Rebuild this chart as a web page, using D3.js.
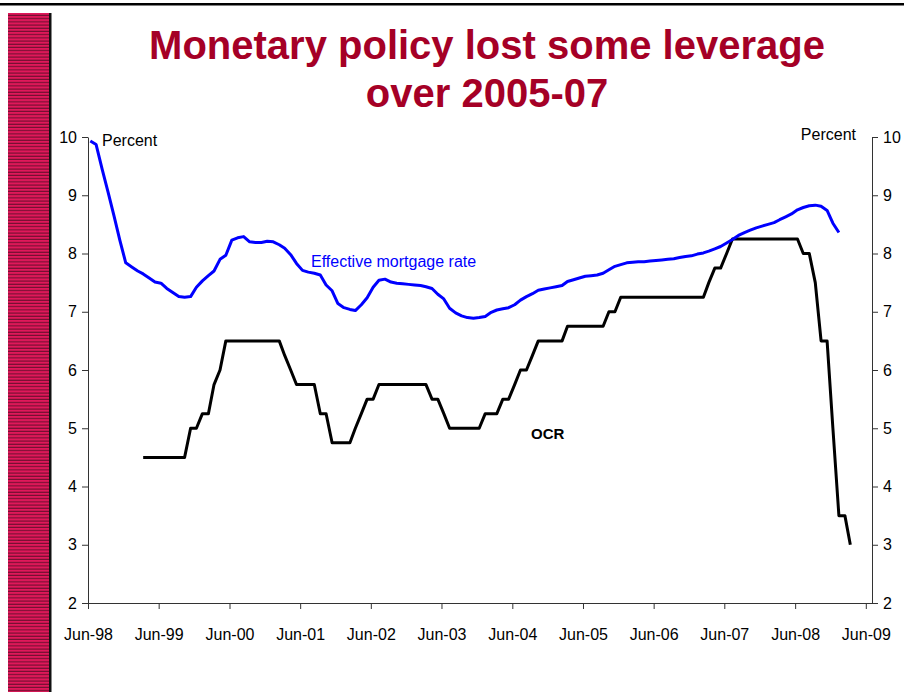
<!DOCTYPE html>
<html>
<head>
<meta charset="utf-8">
<script src="https://cdn.jsdelivr.net/npm/d3@7"></script>
<style>
  html, body { margin: 0; padding: 0; background: #fff; }
  svg { display: block; }
  text { font-family: "Liberation Sans", Arial, sans-serif; }
</style>
</head>
<body>
<svg id="chart" width="904" height="692"></svg>
<script>
// ---------------- DATA ----------------
const titleLines = ["Monetary policy lost some leverage", "over 2005-07"];
const mortgageStart = [1998, 6];   // Jun-98, monthly
const mortgageRate = [
  9.93, 9.87, 9.45, 9.05, 8.65, 8.22, 7.84, 7.77, 7.70, 7.65, 7.58, 7.51,
  7.49, 7.40, 7.33, 7.26, 7.25, 7.26, 7.42, 7.53, 7.62, 7.70, 7.90, 7.97,
  8.23, 8.27, 8.29, 8.20, 8.19, 8.19, 8.21, 8.20, 8.15, 8.09, 7.98, 7.83,
  7.71, 7.68, 7.66, 7.63, 7.46, 7.36, 7.14, 7.07, 7.04, 7.02, 7.12, 7.24,
  7.42, 7.54, 7.56, 7.51, 7.49, 7.48, 7.47, 7.46, 7.45, 7.43, 7.40, 7.30,
  7.22, 7.06, 6.98, 6.93, 6.90, 6.89, 6.90, 6.92, 6.99, 7.03, 7.05, 7.07,
  7.12, 7.20, 7.26, 7.31, 7.37, 7.39, 7.41, 7.43, 7.45, 7.52, 7.55, 7.58,
  7.61, 7.62, 7.63, 7.66, 7.72, 7.78, 7.81, 7.84, 7.85, 7.86, 7.86, 7.87,
  7.88, 7.89, 7.90, 7.91, 7.93, 7.95, 7.96, 7.99, 8.01, 8.04, 8.08, 8.12,
  8.18, 8.24, 8.31, 8.36, 8.40, 8.44, 8.47, 8.50, 8.53, 8.58, 8.63, 8.68,
  8.75, 8.79, 8.82, 8.83, 8.81, 8.74, 8.52, 8.36
];
const ocrStart = [1999, 3];        // Mar-99, monthly
const ocr = [
  4.5, 4.5, 4.5, 4.5, 4.5, 4.5, 4.5, 4.5, 5.0, 5.0, 5.25, 5.25,
  5.75, 6.0, 6.5, 6.5, 6.5, 6.5, 6.5, 6.5, 6.5, 6.5, 6.5, 6.5,
  6.25, 6.0, 5.75, 5.75, 5.75, 5.75, 5.25, 5.25, 4.75, 4.75, 4.75, 4.75,
  5.0, 5.25, 5.5, 5.5, 5.75, 5.75, 5.75, 5.75, 5.75, 5.75, 5.75, 5.75,
  5.75, 5.5, 5.5, 5.25, 5.0, 5.0, 5.0, 5.0, 5.0, 5.0, 5.25, 5.25,
  5.25, 5.5, 5.5, 5.75, 6.0, 6.0, 6.25, 6.5, 6.5, 6.5, 6.5, 6.5,
  6.75, 6.75, 6.75, 6.75, 6.75, 6.75, 6.75, 7.0, 7.0, 7.25, 7.25, 7.25,
  7.25, 7.25, 7.25, 7.25, 7.25, 7.25, 7.25, 7.25, 7.25, 7.25, 7.25, 7.25,
  7.5, 7.75, 7.75, 8.0, 8.25, 8.25, 8.25, 8.25, 8.25, 8.25, 8.25, 8.25,
  8.25, 8.25, 8.25, 8.25, 8.0, 8.0, 7.5, 6.5, 6.5, 5.0, 3.5, 3.5,
  3.0
];
const yTicks = [2, 3, 4, 5, 6, 7, 8, 9, 10];
const xTickYears = [1998, 1999, 2000, 2001, 2002, 2003, 2004, 2005, 2006, 2007, 2008, 2009];
const xTickLabels = ["Jun-98", "Jun-99", "Jun-00", "Jun-01", "Jun-02", "Jun-03",
                     "Jun-04", "Jun-05", "Jun-06", "Jun-07", "Jun-08", "Jun-09"];
const seriesLabels = { mortgage: "Effective mortgage rate", ocr: "OCR", unit: "Percent" };

// ---------------- BUILD ----------------
(function () {
const monthly = (start, vals) => vals.map((v, i) => ({
  date: new Date(start[0], start[1] - 1 + i, 13),
  value: v
}));
const mortgageData = monthly(mortgageStart, mortgageRate);
const ocrData = monthly(ocrStart, ocr);

const svg = d3.select("#chart");
const pLeft = 88, pRight = 872, pTop = 137, pBottom = 603;

// top rule
svg.append("rect").attr("x", 0).attr("y", 3).attr("width", 904).attr("height", 2.5).attr("fill", "#000");

// striped side bar
const defs = svg.append("defs");
const pat = defs.append("pattern").attr("id", "stripes")
  .attr("patternUnits", "userSpaceOnUse").attr("width", 10).attr("height", 3.2);
pat.append("rect").attr("width", 10).attr("height", 3.2).attr("fill", "#e0185a");
pat.append("rect").attr("y", 2.1).attr("width", 10).attr("height", 1.1).attr("fill", "#6e0f2e");
svg.append("rect").attr("x", 8).attr("y", 13).attr("width", 41).attr("height", 679).attr("fill", "url(#stripes)");
svg.append("rect").attr("x", 49).attr("y", 13).attr("width", 2.5).attr("height", 679).attr("fill", "#111");

// title
svg.append("text").attr("x", 487).attr("y", 59).attr("text-anchor", "middle")
  .attr("font-size", 40).attr("font-weight", "bold").attr("fill", "#a50026").text(titleLines[0]);
svg.append("text").attr("x", 487).attr("y", 107).attr("text-anchor", "middle")
  .attr("font-size", 40).attr("font-weight", "bold").attr("fill", "#a50026").text(titleLines[1]);

// scales
const x = d3.scaleTime()
  .domain([new Date(1998, 5, 1), new Date(2009, 6, 3)])
  .range([pLeft, pRight]);
const y = d3.scaleLinear().domain([2, 10]).range([pBottom, pTop]);

const axisColor = "#333";
const styleAxis = g => {
  g.select(".domain").attr("stroke", axisColor).attr("stroke-width", 1);
  g.selectAll(".tick line").attr("stroke", axisColor);
  g.selectAll(".tick text").attr("fill", "#000").attr("font-size", 16)
    .attr("font-family", '"Liberation Sans", Arial, sans-serif');
};

// x axis
const xTickDates = xTickYears.map(yr => new Date(yr, 5, 1));
svg.append("g").attr("transform", `translate(0,${pBottom})`)
  .call(d3.axisBottom(x).tickValues(xTickDates).tickSize(6).tickPadding(20)
    .tickFormat((d, i) => xTickLabels[i]).tickSizeOuter(0))
  .call(styleAxis);

// left y axis
svg.append("g").attr("transform", `translate(${pLeft},0)`)
  .call(d3.axisLeft(y).tickValues(yTicks).tickSize(6).tickPadding(5).tickFormat(d3.format("d")).tickSizeOuter(0))
  .call(styleAxis);
// right y axis
svg.append("g").attr("transform", `translate(${pRight},0)`)
  .call(d3.axisRight(y).tickValues(yTicks).tickSize(6).tickPadding(5).tickFormat(d3.format("d")).tickSizeOuter(0))
  .call(styleAxis);

// lines
const line = d3.line().x(d => x(d.date)).y(d => y(d.value));
svg.append("path").datum(ocrData).attr("d", line)
  .attr("fill", "none").attr("stroke", "#000").attr("stroke-width", 3).attr("stroke-linejoin", "round");
svg.append("path").datum(mortgageData).attr("d", line)
  .attr("fill", "none").attr("stroke", "#0000ff").attr("stroke-width", 3).attr("stroke-linejoin", "round");

// labels
svg.append("text").attr("x", 102).attr("y", 146).attr("font-size", 16).attr("fill", "#000").text(seriesLabels.unit);
svg.append("text").attr("x", 856).attr("y", 140).attr("text-anchor", "end").attr("font-size", 16).attr("fill", "#000").text(seriesLabels.unit);
svg.append("text").attr("x", 311).attr("y", 267).attr("font-size", 16).attr("fill", "#0000ff").text(seriesLabels.mortgage);
svg.append("text").attr("x", 531).attr("y", 439).attr("font-size", 15).attr("font-weight", "bold").attr("fill", "#000").text(seriesLabels.ocr);
})();
</script>
</body>
</html>
